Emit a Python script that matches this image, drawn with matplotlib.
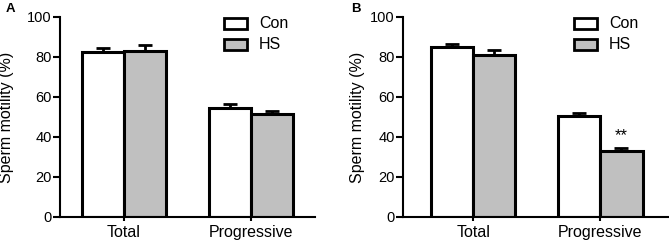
import numpy as np
import matplotlib.pyplot as plt
from matplotlib.patches import Rectangle

plt.rcParams['font.family'] = ['Liberation Sans', 'DejaVu Sans']

categories = ['Total', 'Progressive']
groups = ['Con', 'HS']

con_a = [82.7, 54.3]
con_a_err = [2.0, 2.2]
hs_a = [83.2, 51.3]
hs_a_err = [2.6, 1.6]

con_b = [85.2, 50.7]
con_b_err = [1.3, 1.5]
hs_b = [81.0, 33.2]
hs_b_err = [2.4, 1.5]

colours = ['white', '#c0c0c0']

fig = plt.figure(figsize=(6.69, 2.44), dpi=100)
W, H = 669.0, 244.0

def panel(left, right, xlim, con, con_err, hs, hs_err, label, lx, ylab_x, leg_x, stars=False):
    ax = fig.add_axes([left / W, 27 / H, (right - left) / W, 200 / H])
    ind = np.arange(len(categories))
    width = 0.33
    for i, (vals, errs) in enumerate([(con, con_err), (hs, hs_err)]):
        ax.bar(ind + (i - 0.5) * width, vals, width, color=colours[i],
               edgecolor='black', linewidth=2.2, zorder=2,
               yerr=[np.zeros(len(errs)), errs], capsize=5,
               error_kw=dict(ecolor='black', elinewidth=2, capthick=2, zorder=1))
    ax.set_xlim(*xlim)
    ax.set_ylim(0, 100)
    ax.set_yticks([0, 20, 40, 60, 80, 100])
    ax.set_xticks(ind)
    ax.set_xticklabels(categories, fontsize=11.5)
    ax.tick_params(axis='y', labelsize=10.5, width=1.5, length=5, pad=1)
    ax.tick_params(axis='x', length=3, width=1.5, pad=3)
    for s in ['top', 'right']:
        ax.spines[s].set_visible(False)
    for s in ['left', 'bottom']:
        ax.spines[s].set_linewidth(1.5)
    ax.set_ylabel('Sperm motility (%)', fontsize=11.5)
    ax.yaxis.set_label_coords(ylab_x, 0.5)
    # legend drawn as boxes in pixel positions
    for k in range(2):
        yc = 23.5 + 21 * k
        fig.add_artist(Rectangle((leg_x / W, 1 - (yc + 5.5) / H), 23 / W, 11 / H,
                                 facecolor=colours[k], edgecolor='black', linewidth=2.0,
                                 transform=fig.transFigure))
        fig.text((leg_x + 35) / W, 1 - yc / H, groups[k], fontsize=11.5, va='center')
    if stars:
        ax.annotate('**', xy=(ind[1] + 0.5 * width, hs[1] + hs_err[1] + 2.0),
                    ha='center', va='bottom', fontsize=12, color='black',
                    zorder=10, annotation_clip=False)
    fig.text(lx / W, 1 - 9 / H, label, fontsize=9.5, fontweight='bold', va='center')
    return ax

panel(60, 315, (-0.504, 1.504), con_a, con_a_err, hs_a, hs_a_err, 'A', 6, -0.18, 224)
panel(403, 668, (-0.55, 1.53), con_b, con_b_err, hs_b, hs_b_err, 'B', 351, -0.145, 574, stars=True)

fig.savefig('out.png', dpi=100)
